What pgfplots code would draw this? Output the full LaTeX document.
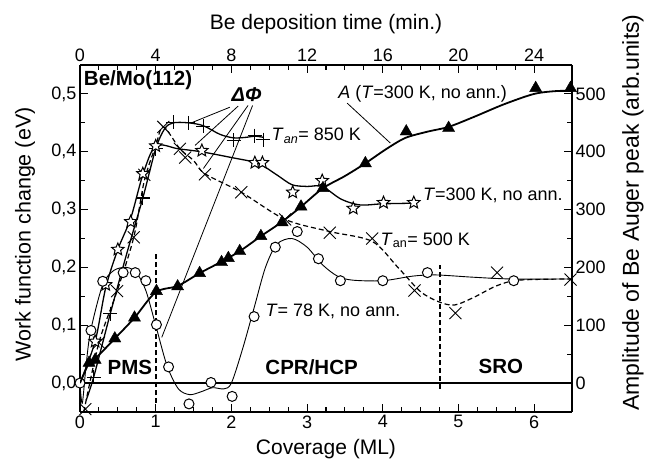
\documentclass[border=0pt]{standalone}
\usepackage{fontspec}
\setmainfont{Liberation Sans}
\usepackage{pgfplots}
\pgfplotsset{compat=1.18}
\pgfdeclareplotmark{ostar}{%
  \pgfpathmoveto{\pgfpointpolar{90}{\pgfplotmarksize}}%
  \pgfpathlineto{\pgfpointpolar{126}{0.45\pgfplotmarksize}}%
  \pgfpathlineto{\pgfpointpolar{162}{\pgfplotmarksize}}%
  \pgfpathlineto{\pgfpointpolar{198}{0.45\pgfplotmarksize}}%
  \pgfpathlineto{\pgfpointpolar{234}{\pgfplotmarksize}}%
  \pgfpathlineto{\pgfpointpolar{270}{0.45\pgfplotmarksize}}%
  \pgfpathlineto{\pgfpointpolar{306}{\pgfplotmarksize}}%
  \pgfpathlineto{\pgfpointpolar{342}{0.45\pgfplotmarksize}}%
  \pgfpathlineto{\pgfpointpolar{18}{\pgfplotmarksize}}%
  \pgfpathlineto{\pgfpointpolar{54}{0.45\pgfplotmarksize}}%
  \pgfpathclose
  \pgfusepathqfillstroke}
\pgfplotsset{
  /pgf/number format/assume math mode=true,
  common/.style={width=492pt, height=347pt, scale only axis,
    xmin=0, xmax=6.5,
    axis line style={line width=1.5pt},
    major tick length=8pt, minor tick length=5pt,
    tick style={line width=1.1pt, black},
    tick align=inside,
    tick label style={font=\fontsize{18}{20}\selectfont},
  },
}
\begin{document}
\begin{tikzpicture}
\begin{axis}[common, name=main,
  ymin=-0.05, ymax=0.55,
  axis x line*=bottom, axis y line*=left,
  xtick={0,1,2,3,4,5,6}, minor x tick num=3,
  ytick={0,0.1,0.2,0.3,0.4,0.5}, minor y tick num=1,
  yticklabel style={/pgf/number format/.cd, fixed, fixed zerofill, precision=1, use comma},
  every axis plot/.append style={black},
]
% zero line and region separators
\draw[line width=1.2pt] (axis cs:0,0) -- (axis cs:6.5,0);
\draw[line width=2pt, dash pattern=on 5pt off 3pt] (axis cs:1,-0.035) -- (axis cs:1,0.225);
\draw[line width=2pt, dash pattern=on 5pt off 3pt] (axis cs:4.75,-0.01) -- (axis cs:4.75,0.205);

% T=78 K curve (circles)
\addplot[line width=0.9pt, smooth, no markers] coordinates {
(0,0)(0.03,-0.035)(0.08,0.03)(0.14,0.09)(0.3,0.17)(0.45,0.195)(0.62,0.2)(0.75,0.19)(0.87,0.16)(1.0,0.1)(1.15,0.03)(1.3,-0.01)(1.45,-0.02)(1.6,-0.015)(1.75,-0.008)(1.9,-0.01)(2.0,0.0)(2.15,0.06)(2.3,0.13)(2.45,0.2)(2.6,0.24)(2.8,0.25)(3.0,0.235)(3.2,0.205)(3.4,0.185)(3.6,0.178)(4.0,0.177)(4.4,0.185)(4.7,0.187)(5.2,0.183)(5.7,0.18)(6.5,0.18)};
% T_an=500 K (x, dashed)
\addplot[line width=1.2pt, smooth, dash pattern=on 5pt off 3pt, no markers] coordinates {
(0.05,-0.05)(0.25,0.07)(0.49,0.159)(0.71,0.252)(0.85,0.35)(1.0,0.41)(1.1,0.443)(1.32,0.405)(1.5,0.385)(1.65,0.362)(2.13,0.33)(2.71,0.283)(3.3,0.262)(3.86,0.245)(4.2,0.2)(4.5,0.158)(4.75,0.14)(4.95,0.135)(5.2,0.148)(5.5,0.168)(5.8,0.178)(6.5,0.18)};
% T_an=850 K (+)
\addplot[line width=1.3pt, smooth, no markers] coordinates {
(0.08,-0.03)(0.18,0.01)(0.4,0.12)(0.62,0.225)(0.83,0.32)(1.0,0.405)(1.12,0.44)(1.23,0.45)(1.43,0.45)(1.63,0.445)(1.85,0.43)(2.03,0.424)(2.2,0.425)(2.31,0.427)(2.42,0.425)};
% T=300 K (stars)
\addplot[line width=1.3pt, smooth, no markers] coordinates {
(0,0)(0.2,0.072)(0.34,0.165)(0.5,0.231)(0.67,0.285)(0.83,0.36)(1.0,0.41)(1.3,0.405)(1.6,0.40)(2.0,0.39)(2.35,0.38)(2.6,0.36)(2.8,0.343)(3.0,0.34)(3.2,0.34)(3.45,0.318)(3.7,0.308)(4.0,0.31)(4.41,0.311)};

% marks
\addplot[only marks, mark=x, mark size=8.5pt, mark options={solid, line width=0.9pt}] coordinates {
(0.07,-0.045)(0.25,0.07)(0.49,0.159)(0.71,0.252)(0.85,0.36)(1.1,0.443)(1.32,0.405)(1.39,0.39)(1.65,0.361)(2.13,0.33)(2.71,0.283)(3.3,0.26)(3.86,0.25)(4.42,0.16)(4.96,0.121)(5.51,0.191)(6.48,0.179)};
\addplot[only marks, mark=+, mark size=7pt, mark options={solid, line width=1.2pt}] coordinates {
(0.18,0.01)(0.4,0.12)(0.83,0.32)(1.0,0.405)(1.23,0.451)(1.43,0.45)(1.63,0.444)(2.03,0.42)(2.31,0.428)(2.42,0.421)};
\addplot[only marks, mark=ostar, mark size=6.5pt, mark options={solid, fill=white, line width=1pt}] coordinates {
(0.2,0.072)(0.34,0.17)(0.5,0.231)(0.67,0.279)(0.83,0.362)(1.0,0.41)(1.61,0.402)(2.31,0.381)(2.41,0.381)(2.81,0.33)(3.2,0.35)(3.61,0.302)(4.01,0.312)(4.41,0.312)};
\addplot[only marks, mark=*, mark size=5pt, mark options={solid, fill=white, line width=1pt}] coordinates {
(0,0)(0.145,0.091)(0.30,0.176)(0.57,0.191)(0.73,0.191)(0.87,0.177)(1.01,0.101)(1.17,0.028)(1.44,-0.036)(1.73,0.001)(2.01,-0.023)(2.30,0.115)(2.58,0.235)(2.87,0.262)(3.15,0.215)(3.44,0.177)(4.0,0.177)(4.59,0.191)(5.73,0.177)};

% leader lines
\draw[line width=0.8pt] (axis cs:1.98,0.477) -- (axis cs:1.49,0.451);
\draw[line width=0.8pt] (axis cs:2.09,0.479) -- (axis cs:1.52,0.411);
\draw[line width=0.8pt] (axis cs:2.22,0.48) -- (axis cs:1.63,0.371);
\draw[line width=0.8pt] (axis cs:2.28,0.48) -- (axis cs:1.08,0.079);
\draw[line width=0.8pt] (axis cs:3.53,0.484) -- (axis cs:4.1,0.415);

% text
\node[anchor=west, font=\fontsize{20.5}{22}\selectfont\bfseries, inner sep=0pt] at (axis cs:0.05,0.523) {Be/Mo(112)};
\node[font=\fontsize{20}{22}\selectfont\bfseries\itshape, inner sep=0pt] at (axis cs:2.2,0.498) {ΔΦ};
\node[anchor=west, font=\fontsize{18}{20}\selectfont, inner sep=0pt] at (axis cs:3.41,0.50) {\textit{A} (\textit{T}=300 K, no ann.)};
\node[anchor=west, font=\fontsize{18}{20}\selectfont, inner sep=0pt] at (axis cs:2.53,0.428) {\textit{T}\textsubscript{\textit{an}}= 850 K};
\node[anchor=west, font=\fontsize{18}{20}\selectfont, inner sep=0pt] at (axis cs:4.53,0.325) {\textit{T}=300 K, no ann.};
\node[anchor=west, font=\fontsize{18}{20}\selectfont, inner sep=0pt] at (axis cs:3.97,0.247) {\textit{T}\textsubscript{an}= 500 K};
\node[anchor=west, font=\fontsize{18}{20}\selectfont, inner sep=0pt] at (axis cs:2.45,0.124) {\textit{T}= 78 K, no ann.};
\node[font=\fontsize{20.5}{22}\selectfont\bfseries, inner sep=0pt] at (axis cs:0.66,0.027) {PMS};
\node[font=\fontsize{20.5}{22}\selectfont\bfseries, inner sep=0pt] at (axis cs:3.06,0.028) {CPR/HCP};
\node[font=\fontsize{20.5}{22}\selectfont\bfseries, inner sep=0pt] at (axis cs:5.56,0.028) {SRO};
\end{axis}

\begin{axis}[common, name=second,
  ymin=-50, ymax=550,
  axis x line*=top, axis y line*=right,
  xtick={0,1,2,3,4,5,6}, xticklabels={0,4,8,12,16,20,24}, minor x tick num=3,
  ytick={0,100,200,300,400,500}, minor y tick num=1,
]
% Amplitude of Be Auger peak (T=300 K)
\addplot[black, line width=1.8pt, smooth, no markers] coordinates {
(0,0)(0.12,35)(0.2,42)(0.46,77)(0.72,113)(1.0,157)(1.29,168)(1.58,190)(1.87,210)(2.11,228)(2.39,254)(2.67,279)(2.92,305)(3.21,337)(3.5,358)(3.77,380)(4.05,405)(4.3,424)(4.6,435)(4.87,443)(5.2,460)(5.6,482)(6.0,500)(6.3,505)(6.5,505)};
\addplot[black, only marks, mark=triangle*, mark size=7pt] coordinates {
(0.12,35)(0.2,40)(0.46,77)(0.72,113)(1.01,159)(1.29,167)(1.58,190)(1.87,209)(1.96,216)(2.11,228)(2.39,254)(2.67,278)(2.92,305)(3.21,337)(3.77,380)(4.31,435)(4.87,441)(6.02,510)(6.48,510)};
\end{axis}

\node[font=\fontsize{21}{24}\selectfont] at ([yshift=-37pt]main.south) {Coverage (ML)};
\node[font=\fontsize{21}{24}\selectfont] at ([yshift=41pt]main.north) {Be deposition time (min.)};
\node[font=\fontsize{21.5}{24}\selectfont, rotate=90] at ([xshift=-55pt,yshift=4pt]main.west) {Work function change (eV)};
\node[font=\fontsize{23}{26}\selectfont, rotate=90] at ([xshift=61pt,yshift=26pt]main.east) {Amplitude of Be Auger peak (arb.units)};

\pgfresetboundingbox
\path ([xshift=-80pt,yshift=-49pt]main.south west) rectangle ([xshift=74pt,yshift=65pt]main.north east);
\end{tikzpicture}
\end{document}
